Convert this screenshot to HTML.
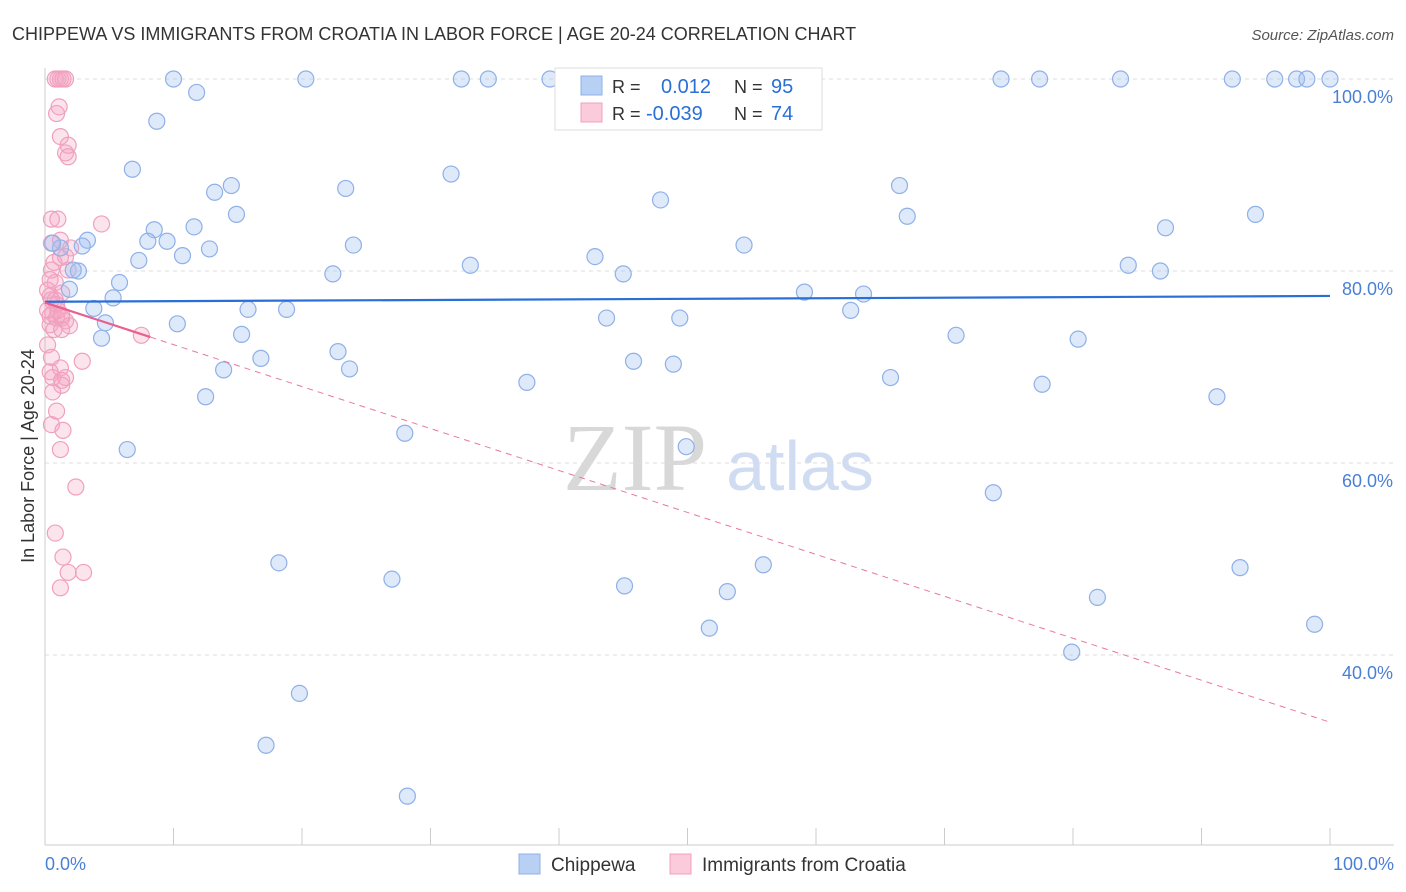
<!DOCTYPE html>
<html><head><meta charset="utf-8">
<style>
body{margin:0;background:#fff;font-family:"Liberation Sans",sans-serif;}
#wrap{position:relative;width:1406px;height:892px;overflow:hidden;}
</style></head>
<body>
<div id="wrap">
<svg id="chart" width="1406" height="892">
<text x="12" y="40" font-size="18" fill="#333">CHIPPEWA VS IMMIGRANTS FROM CROATIA IN LABOR FORCE | AGE 20-24 CORRELATION CHART</text>
<text x="1394" y="40" font-size="15" fill="#555" font-style="italic" text-anchor="end">Source: ZipAtlas.com</text>
<text x="635" y="490" font-size="96" fill="#d8d8d8" font-family="Liberation Serif,serif" text-anchor="middle">ZIP</text>
<text x="800" y="490" font-size="70" fill="#cfdcf2" text-anchor="middle">atlas</text>
<text transform="translate(34,456) rotate(-90)" font-size="18" fill="#333" text-anchor="middle">In Labor Force | Age 20-24</text>
<g id="grid"></g><g id="marks"></g>
</svg>
</div>
<script>
const blueX=[10.0,11.8,8.7,20.3,32.4,34.5,39.3,58.0,74.4,77.4,83.7,92.4,95.7,97.4,98.2,100,46.4,6.8,31.6,13.2,14.5,23.4,47.9,66.5,14.9,67.1,94.2,3.3,8.5,11.6,8.0,9.5,7.3,10.7,12.8,24.0,54.4,87.2,42.8,2.6,2.2,33.1,45.0,22.4,84.3,86.8,5.8,1.9,5.3,3.8,4.7,4.4,10.3,15.8,18.8,15.3,43.7,49.4,59.1,63.7,62.7,70.9,80.4,22.8,16.8,45.8,48.9,13.9,23.7,37.5,65.8,77.6,12.5,91.2,28.0,49.9,6.4,73.8,18.2,55.9,93.0,27.0,45.1,53.1,81.9,51.7,98.8,79.9,19.8,17.2,28.2,2.9,1.2,0.6];
const blueY=[100,98.6,95.6,100,100,100,100,100,100,100,100,100,100,100,100,100,96.1,90.6,90.1,88.2,88.9,88.6,87.4,88.9,85.9,85.7,85.9,83.2,84.3,84.6,83.1,83.1,81.1,81.6,82.3,82.7,82.7,84.5,81.5,80.0,80.1,80.6,79.7,79.7,80.6,80.0,78.8,78.1,77.2,76.1,74.6,73.0,74.5,76.0,76.0,73.4,75.1,75.1,77.8,77.6,75.9,73.3,72.9,71.6,70.9,70.6,70.3,69.7,69.8,68.4,68.9,68.2,66.9,66.9,63.1,61.7,61.4,56.9,49.6,49.4,49.1,47.9,47.2,46.6,46.0,42.8,43.2,40.3,36.0,30.6,25.3,82.6,82.4,82.9];
const pinkX=[0.8,1.0,1.2,1.4,1.6,1.1,0.9,1.2,1.8,1.6,1.8,4.4,0.5,1.0,0.5,1.2,2.0,0.7,1.2,1.6,0.5,1.8,0.8,1.3,0.4,0.5,0.9,0.2,0.6,0.4,0.9,1.3,1.6,1.9,0.4,0.7,1.3,0.2,7.5,2.9,0.5,1.2,0.4,0.6,1.3,1.6,1.3,0.6,0.9,0.5,1.4,1.2,2.4,0.8,1.4,1.8,3.0,1.2,0.4,0.2,0.8,1.0,1.3];
const pinkY=[100,100,100,100,100,97.1,96.4,94.0,93.1,92.3,91.9,84.9,85.4,85.4,82.9,83.2,82.4,80.9,81.4,81.5,80.1,80.1,78.8,77.7,77.4,77.0,76.5,75.9,75.6,75.3,75.1,75.1,74.8,74.3,74.4,73.9,73.9,72.3,73.3,70.6,71.0,69.9,69.5,68.9,68.6,68.9,68.1,67.4,65.4,64.0,63.4,61.4,57.5,52.7,50.2,48.6,48.6,47.0,79.1,78.0,77.0,75.9,75.4];
const blueTrend=[76.8,77.4]; // y at x=0, x=100
const pinkTrend=[76.7,33.0];
const yTicks=[100,80,60,40];

const NS="http://www.w3.org/2000/svg";
const X=v=>45+v*12.85, Y=v=>79+(100-v)*9.6;
const grid=document.getElementById('grid'), marks=document.getElementById('marks');
function mk(tag,attrs,parent){const e=document.createElementNS(NS,tag);for(const k in attrs)e.setAttribute(k,attrs[k]);parent.appendChild(e);return e;}
yTicks.forEach(t=>{
 const l=mk('line',{x1:45,x2:1394,y1:Y(t),y2:Y(t),stroke:'#ddd','stroke-dasharray':'4,4'},grid);
 
 
 const tx=mk('text',{x:1393,y:Y(t)+24,'font-size':18,fill:'#4a7fd6','text-anchor':'end'},grid);
 tx.textContent=t.toFixed(1)+'%';
 
 
});
const ax=mk('line',{x1:45,x2:1394,y1:845,y2:845,stroke:'#ccc'},grid);


const ay=mk('line',{x1:45,x2:45,y1:68,y2:845,stroke:'#ccc'},grid);


for(let i=1;i<=10;i++){const t=mk('line',{x1:X(i*10),x2:X(i*10),y1:828,y2:845,stroke:'#ccc'},grid);
 
 }
[[0,'0.0%','start',45],[100,'100.0%','end',1394]].forEach(a=>{const t=mk('text',{x:a[3],y:870,'font-size':18,fill:'#4a7fd6','text-anchor':a[2]},grid);t.textContent=a[1];
 
 });
pinkX.forEach((x,i)=>{const c=mk('circle',{cx:X(x),cy:Y(pinkY[i]),r:8,fill:'rgba(245,165,195,0.3)',stroke:'#f0a0bd','stroke-width':1.2},marks);
 
 });
blueX.forEach((x,i)=>{const c=mk('circle',{cx:X(x),cy:Y(blueY[i]),r:8,fill:'rgba(160,192,240,0.35)',stroke:'#8fb0e8','stroke-width':1.2},marks);
 
 });
const bl=mk('line',{x1:X(0),y1:Y(blueTrend[0]),x2:X(100),y2:Y(blueTrend[1]),stroke:'#2a6fd6','stroke-width':2.2},marks);


const pv=x=>pinkTrend[0]+(pinkTrend[1]-pinkTrend[0])*x/100;
const pd=mk('line',{x1:X(8.2),y1:Y(pv(8.2)),x2:X(100),y2:Y(pv(100)),stroke:'#e8799f','stroke-width':1,'stroke-dasharray':'6,5'},marks);


const ps=mk('line',{x1:X(0),y1:Y(pv(0)),x2:X(8.2),y2:Y(pv(8.2)),stroke:'#e8608f','stroke-width':2.2},marks);


</script>
<svg style="position:absolute;left:0;top:0" width="1406" height="892">
<g>
<rect x="555" y="68" width="267" height="62" fill="#fff" stroke="#ddd"/>
<rect x="581" y="76" width="21" height="19" fill="#b8d0f4" stroke="#8fb0e8"/>
<rect x="581" y="103" width="21" height="19" fill="#fbcadb" stroke="#f0a0bd"/>
<text x="612" y="93" font-size="18" fill="#333">R =</text>
<text x="661" y="93" font-size="20" fill="#2a6fd6">0.012</text>
<text x="734" y="93" font-size="18" fill="#333">N =</text>
<text x="771" y="93" font-size="20" fill="#2a6fd6">95</text>
<text x="612" y="120" font-size="18" fill="#333">R =</text>
<text x="646" y="120" font-size="20" fill="#2a6fd6">-0.039</text>
<text x="734" y="120" font-size="18" fill="#333">N =</text>
<text x="771" y="120" font-size="20" fill="#2a6fd6">74</text>
</g>
<g>
<rect x="519" y="854" width="21" height="20" fill="#b8d0f4" stroke="#8fb0e8"/>
<text x="551" y="871" font-size="19" fill="#333">Chippewa</text>
<rect x="670" y="854" width="21" height="20" fill="#fbcadb" stroke="#f0a0bd"/>
<text x="702" y="871" font-size="19" fill="#333">Immigrants from Croatia</text>
</g>
</svg>
</body></html>
